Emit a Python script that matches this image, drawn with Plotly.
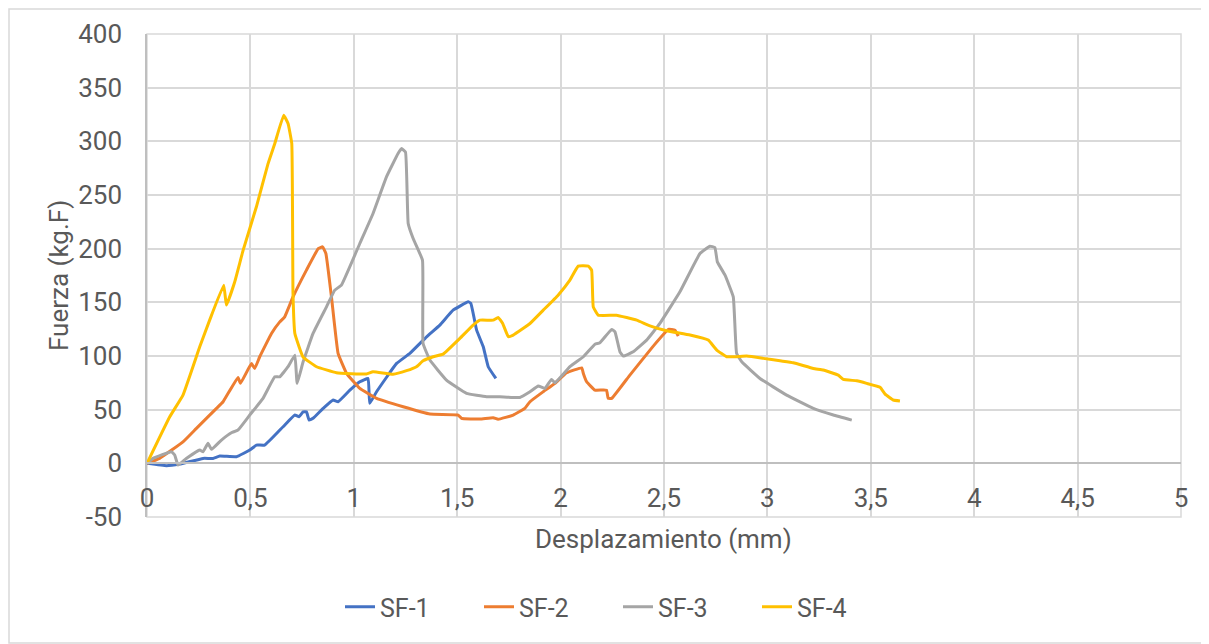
import plotly.graph_objects as go

# ---- data ----
sf1_x = [0, 0.094, 0.158, 0.271, 0.319, 0.352, 0.433, 0.497, 0.529, 0.569, 0.658, 0.715, 0.735, 0.755,
         0.771, 0.784, 0.803, 0.852, 0.90, 0.924, 0.981, 1.029, 1.069, 1.077, 1.11, 1.207, 1.271, 1.352,
         1.416, 1.48, 1.553, 1.566, 1.594, 1.626, 1.65, 1.687]
sf1_y = [0, -2.2, -0.7, 4.6, 4.6, 6.8, 6.2, 12.4, 17, 17, 34.1, 45, 43.4, 48,
         48, 40.3, 41.9, 51.2, 59, 57.4, 68.2, 76, 79.1, 55.9, 66.7, 93.1, 102.4, 117.9,
         128.8, 142.7, 150.5, 149, 124.1, 108.6, 90, 79.1]

sf2_x = [0, 0.061, 0.174, 0.239, 0.336, 0.368, 0.44, 0.452, 0.505, 0.521, 0.545, 0.602, 0.642, 0.666,
         0.706, 0.771, 0.828, 0.849, 0.865, 0.892, 0.924, 0.965, 1.029, 1.11, 1.239, 1.368, 1.505,
         1.521, 1.61, 1.674, 1.698, 1.771, 1.827, 1.852, 1.916, 1.973, 2.029, 2.102, 2.11, 2.126,
         2.166, 2.222, 2.23, 2.247, 2.335, 2.448, 2.521, 2.553, 2.569]
sf2_y = [0, 4.6, 20, 32.6, 51.2, 57.4, 80, 74.5, 93, 88.4, 99.3, 121, 131.8, 136.5,
         155, 180, 200, 201.7, 195.5, 155, 102.4, 83.8, 69.8, 60.5, 52.7, 45.9, 45,
         41.9, 41.2, 42.5, 41, 45, 51.2, 57.4, 66.7, 74.5, 84.4, 89, 83.8, 76,
         68.2, 68.2, 60.5, 60.5, 82.2, 109.2, 124.8, 124, 118.5]

sf3_x = [0, 0.029, 0.118, 0.134, 0.15, 0.19, 0.255, 0.271, 0.295, 0.312, 0.36, 0.408, 0.44, 0.497,
         0.561, 0.618, 0.642, 0.682, 0.715, 0.726, 0.755, 0.803, 0.868, 0.908, 0.94, 1.029, 1.093,
         1.158, 1.214, 1.231, 1.25, 1.263, 1.287, 1.332, 1.335, 1.368, 1.448, 1.545, 1.642, 1.706,
         1.803, 1.852, 1.892, 1.924, 1.956, 1.973, 2.045, 2.11, 2.166, 2.19, 2.247, 2.263, 2.287,
         2.303, 2.351, 2.416, 2.48, 2.577, 2.674, 2.722, 2.746, 2.758, 2.795, 2.835, 2.851, 2.876,
         2.964, 3.093, 3.222, 3.319, 3.408]
sf3_y = [0, 4.6, 10.8, 7.7, -1.6, 4.6, 12.4, 10.8, 18.6, 13, 21.7, 28.5, 31, 45,
         60.5, 80.6, 80.6, 90, 100.8, 74.5, 94.6, 121, 145.8, 161.4, 166, 204.8, 232.8,
         266.9, 288.6, 293.3, 290, 223.5, 209.5, 189.3, 111.7, 96.2, 77.6, 65.2, 62, 62,
         61.4, 66.7, 72, 69.8, 78.2, 75, 90, 99.3, 111, 112.3, 124.8, 122.5, 103.9,
         99.9, 103.9, 114.8, 130.3, 159.8, 195.5, 202.3, 201.1, 187.7, 175.3, 155.1, 102.4, 94.6,
         79.1, 63.6, 51.2, 45, 40.3]

sf4_x = [0, 0.11, 0.174, 0.255, 0.303, 0.371, 0.384, 0.424, 0.465, 0.529, 0.585, 0.618, 0.661, 0.682,
         0.70, 0.706, 0.715, 0.755, 0.82, 0.916, 1.061, 1.093, 1.19, 1.255, 1.303, 1.335, 1.384,
         1.432, 1.513, 1.577, 1.61, 1.674, 1.698, 1.72, 1.747, 1.771, 1.852, 1.916, 1.988, 2.045,
         2.085, 2.134, 2.15, 2.158, 2.182, 2.27, 2.368, 2.432, 2.513, 2.626, 2.714, 2.755, 2.803,
         2.9, 2.98, 3.061, 3.125, 3.222, 3.27, 3.343, 3.367, 3.432, 3.48, 3.545, 3.569, 3.609, 3.641]
sf4_y = [0, 43.4, 63.6, 108.6, 133.4, 166, 147.4, 169, 198.6, 239, 279, 298, 324.3, 316.6,
         298, 158, 121, 99, 90, 84.4, 83.2, 85.3, 83, 86.3, 90, 95.5, 99.3,
         101.8, 116.4, 128.8, 133.4, 133.4, 136, 130.3, 118, 119.5, 130.3, 142.7, 156.7, 170.7,
         183.7, 183.7, 180, 145.8, 138, 138, 133.4, 128.1, 123.5, 119.5, 114.8, 105.5, 99.3,
         99.9, 97.8, 95.5, 93.7, 88.4, 86.9, 82.2, 78.2, 76.9, 74.5, 70.8, 64.5, 59, 58]

series_names = ["SF-1", "SF-2", "SF-3", "SF-4"]
series_colors = ["#4472C4", "#ED7D31", "#A5A5A5", "#FFC000"]

x_tickvals = [0, 0.5, 1, 1.5, 2, 2.5, 3, 3.5, 4, 4.5, 5]
x_ticktext = ["0", "0,5", "1", "1,5", "2", "2,5", "3", "3,5", "4", "4,5", "5"]
y_tickvals = [-50, 0, 50, 100, 150, 200, 250, 300, 350, 400]
y_ticktext = ["-50", "0", "50", "100", "150", "200", "250", "300", "350", "400"]

FONT = "Roboto, Liberation Sans, Arial, sans-serif"
TXT = "#595959"
GRID = "#D9D9D9"

# The page has an 8px body margin, so figure coords = page coords - 8
OFF = 8
W, H = 1209 - OFF, 644 - OFF
L, R, T, B = 147 - OFF, 1181 - OFF, 34 - OFF, 517 - OFF
pw, ph = R - L, B - T

def px2paper_x(px):
    return (px - OFF - L) / pw

def px2paper_y(py):
    return (B - (py - OFF)) / ph

fig = go.Figure()
for xs, ys, name, col in zip([sf1_x, sf2_x, sf3_x, sf4_x], [sf1_y, sf2_y, sf3_y, sf4_y],
                             series_names, series_colors):
    fig.add_trace(go.Scatter(x=xs, y=ys, mode="lines", name=name,
                             line=dict(color=col, width=3, shape="spline", smoothing=0.3)))

y0_paper = (0 - (-50)) / 450.0

fig.update_layout(
    width=W, height=H,
    margin=dict(l=L, r=W - R, t=T, b=H - B, pad=0),
    paper_bgcolor="white", plot_bgcolor="white",
    font=dict(family=FONT, color=TXT, size=26),
    showlegend=True,
    legend=dict(orientation="h", x=px2paper_x(618), xanchor="center",
                y=px2paper_y(607), yanchor="middle",
                font=dict(size=25, color=TXT), entrywidth=94, entrywidthmode="pixels",
                bgcolor="rgba(0,0,0,0)"),
    xaxis=dict(range=[0, 5], tickvals=x_tickvals, ticktext=x_ticktext,
               showgrid=True, gridcolor=GRID, gridwidth=1.5,
               zeroline=False, showline=True, linecolor="#BFBFBF", linewidth=1.5,
               anchor="free", position=y0_paper,
               ticks="outside", ticklen=12, tickcolor="rgba(0,0,0,0)",
               tickfont=dict(size=26, color=TXT)),
    yaxis=dict(range=[-50, 400], tickvals=y_tickvals, ticktext=y_ticktext,
               showgrid=True, gridcolor=GRID, gridwidth=1.5,
               zeroline=False, showline=True, linecolor="#BFBFBF", linewidth=1.5,
               ticks="outside", ticklen=18, tickcolor="rgba(0,0,0,0)",
               tickfont=dict(size=26, color=TXT)),
    shapes=[
        dict(type="rect", xref="paper", yref="paper", x0=0, x1=1, y0=0, y1=1,
             line=dict(color=GRID, width=1.5), layer="below"),
        dict(type="rect", xref="paper", yref="paper",
             x0=px2paper_x(9), x1=px2paper_x(1208), y0=px2paper_y(643), y1=px2paper_y(9),
             line=dict(color=GRID, width=1.5), layer="below"),
    ],
    annotations=[
        dict(text="Desplazamiento (mm)", xref="paper", yref="paper",
             x=px2paper_x(663), y=px2paper_y(539), xanchor="center", yanchor="middle",
             showarrow=False, font=dict(size=26, color=TXT)),
        dict(text="Fuerza (kg.F)", xref="paper", yref="paper",
             x=px2paper_x(59), y=px2paper_y(276), xanchor="center", yanchor="middle",
             textangle=-90, showarrow=False, font=dict(size=26, color=TXT)),
    ],
)

fig.write_html("out.html")
